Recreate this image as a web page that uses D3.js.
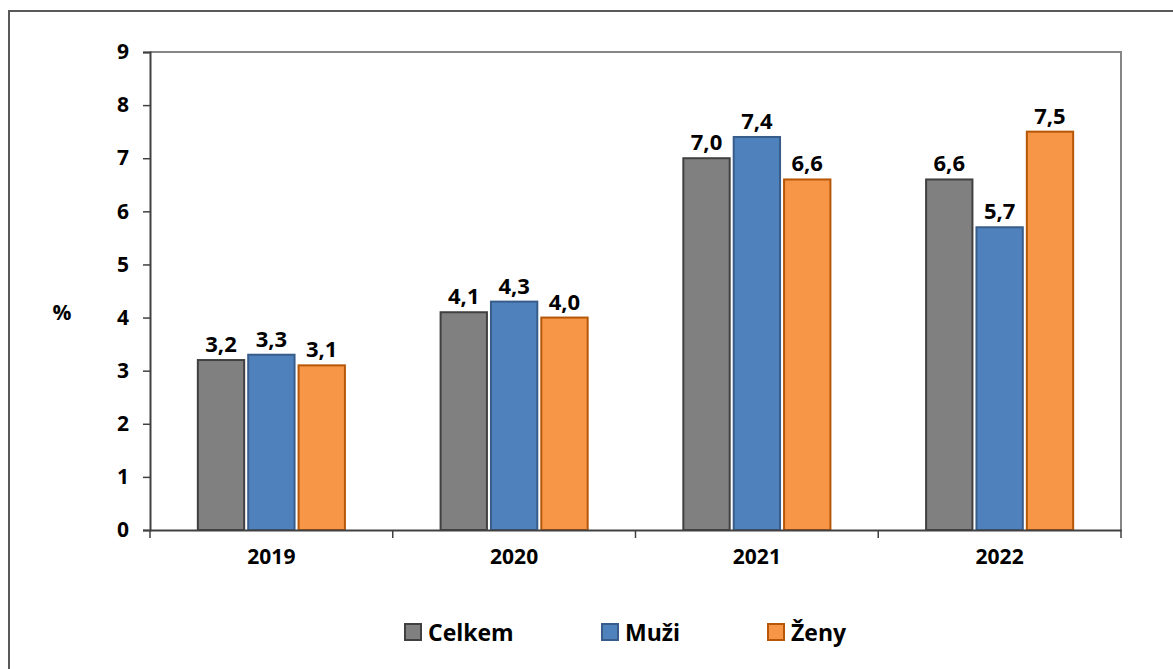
<!DOCTYPE html>
<html>
<head>
<meta charset="utf-8">
<script src="https://cdn.jsdelivr.net/npm/d3@7"></script>
<style>
  body { margin: 0; background: #fff; }
  text { font-family: "Open Sans", Lato, sans-serif; font-weight: bold; fill: #000; }
</style>
</head>
<body>
<svg width="1173" height="669"></svg>
<script>
// data
var years = ["2019", "2020", "2021", "2022"];
var series = ["Celkem", "Muži", "Ženy"];
var celkem = [3.2, 4.1, 7.0, 6.6];
var muzi = [3.3, 4.3, 7.4, 5.7];
var zeny = [3.1, 4.0, 6.6, 7.5];
var yTicks = [0, 1, 2, 3, 4, 5, 6, 7, 8, 9];

var fills = ["#808080", "#4f81bd", "#f79646"];
var strokes = ["#404040", "#385d8a", "#b65708"];

var values = [celkem, muzi, zeny];
var rows = [];
years.forEach(function(yr, i) {
    series.forEach(function(s, j) {
        rows.push({year: yr, s: s, j: j, v: values[j][i]});
    });
});

var svg = d3.select("svg");

// outer frame
svg.append("rect")
    .attr("x", 9).attr("y", 11)
    .attr("width", 1180).attr("height", 680)
    .attr("fill", "none").attr("stroke", "#595959").attr("stroke-width", 2);

var pLeft = 150, pTop = 52, pRight = 1121, pBottom = 530;

var x = d3.scaleBand().domain(years).range([pLeft, pRight]);
var inner = d3.scaleBand().domain(series).range([0, x.bandwidth()]).paddingOuter(0.93).paddingInner(0.04);
var y = d3.scaleLinear().domain([0, 9]).range([pBottom, pTop]);

// plot frame top/right
svg.append("path")
    .attr("d", "M" + pLeft + "," + pTop + "H" + pRight + "V" + pBottom)
    .attr("fill", "none").attr("stroke", "#868686").attr("stroke-width", 2);

// bars
svg.append("g").selectAll("rect")
    .data(rows)
    .enter().append("rect")
    .attr("x", function(d) { return x(d.year) + inner(d.s) + 1; })
    .attr("y", function(d) { return y(d.v); })
    .attr("width", inner.bandwidth() - 2)
    .attr("height", function(d) { return pBottom - y(d.v); })
    .attr("fill", function(d) { return fills[d.j]; })
    .attr("stroke", function(d) { return strokes[d.j]; })
    .attr("stroke-width", 2);

// value labels
svg.append("g").selectAll("text")
    .data(rows)
    .enter().append("text")
    .attr("x", function(d) { return x(d.year) + inner(d.s) + inner.bandwidth() / 2; })
    .attr("y", function(d) { return y(d.v) - 8; })
    .attr("text-anchor", "middle")
    .style("font-size", "22px")
    .text(function(d) { return d.v.toFixed(1).replace(".", ","); });

// y axis
var yAxis = svg.append("g")
    .attr("transform", "translate(" + pLeft + ",0)")
    .call(d3.axisLeft(y).tickValues(yTicks).tickSize(7).tickPadding(14).tickFormat(d3.format("d")));
yAxis.select(".domain").attr("stroke", "#404040").attr("stroke-width", 2);
yAxis.selectAll(".tick line").attr("stroke", "#404040").attr("stroke-width", 1.5);
yAxis.selectAll(".tick text").style("font-size", "21px").style("font-family", "'Open Sans', sans-serif").style("font-weight", "bold").attr("fill", "#000");

// x axis
var xAxis = svg.append("g")
    .attr("transform", "translate(0," + pBottom + ")")
    .call(d3.axisBottom(x).tickSize(0).tickPadding(19));
xAxis.select(".domain").attr("stroke", "#404040").attr("stroke-width", 2);
xAxis.selectAll(".tick text").style("font-size", "21px").style("font-family", "'Open Sans', sans-serif").style("font-weight", "bold").attr("fill", "#000");
// category boundary ticks
xAxis.selectAll("line.sep")
    .data(years.concat(["end"]))
    .enter().append("line")
    .attr("class", "sep")
    .attr("x1", function(d, i) { return pLeft + i * x.step(); })
    .attr("x2", function(d, i) { return pLeft + i * x.step(); })
    .attr("y1", 0).attr("y2", 8)
    .attr("stroke", "#404040").attr("stroke-width", 1.5);

// y label
svg.append("text")
    .attr("x", 62).attr("y", 320)
    .attr("text-anchor", "middle")
    .style("font-size", "21px")
    .text("%");

// legend
var legX = [405, 602, 768];
var leg = svg.append("g").selectAll("g")
    .data(series)
    .enter().append("g")
    .attr("transform", function(d, i) { return "translate(" + legX[i] + ",624)"; });
leg.append("rect")
    .attr("width", 16).attr("height", 16)
    .attr("fill", function(d, i) { return fills[i]; })
    .attr("stroke", function(d, i) { return strokes[i]; })
    .attr("stroke-width", 2);
leg.append("text")
    .attr("x", 23).attr("y", 17)
    .style("font-size", "23px")
    .text(function(d) { return d; });
</script>
</body>
</html>
